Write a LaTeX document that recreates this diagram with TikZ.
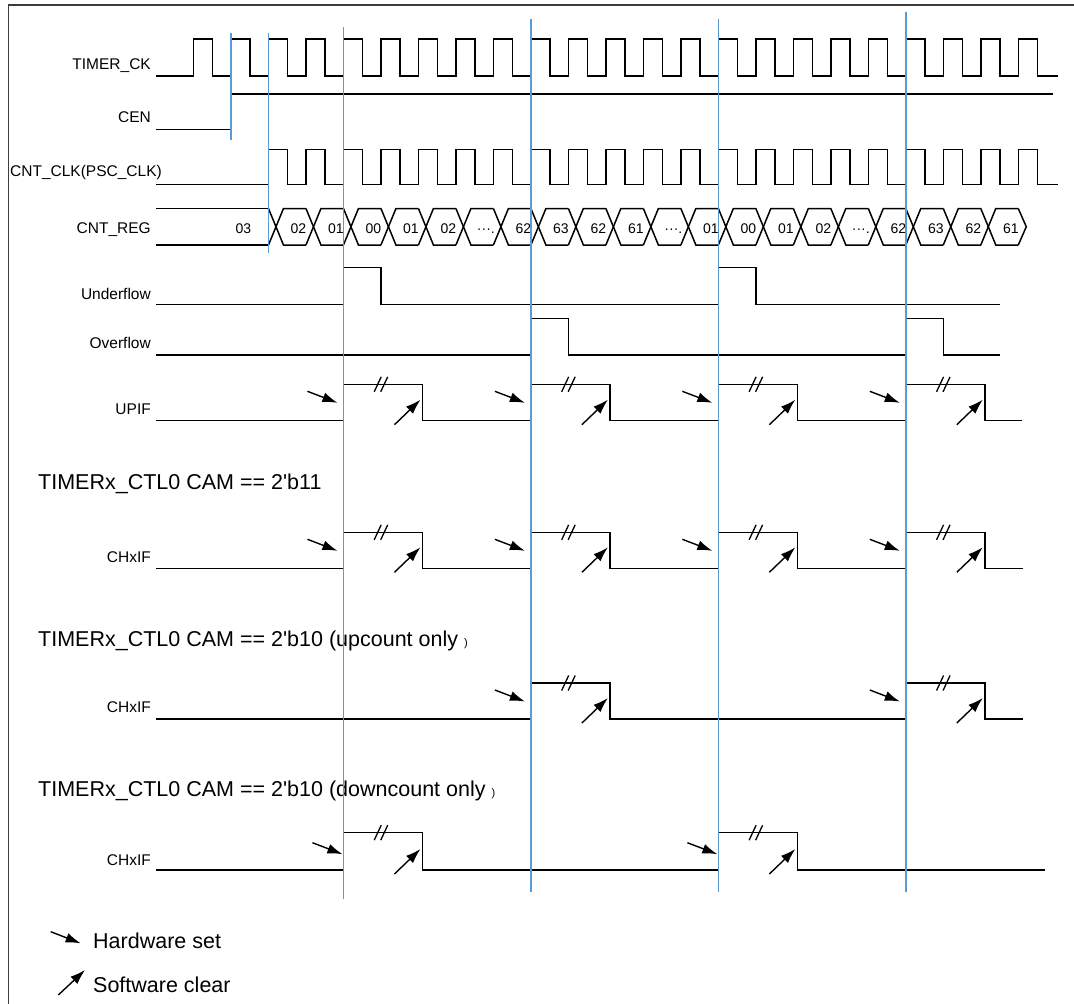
\documentclass[tikz,border=0pt]{standalone}
\usepackage{fontspec}
\newfontfamily\arialfont{Liberation Sans}
\usetikzlibrary{arrows.meta}
\definecolor{guide}{RGB}{91,155,213}
\definecolor{framegray}{RGB}{60,60,60}
\newcommand\flagwave[6]{%
  % #1 low, #2 high, #3 edges, #4 end x, #5 hw tip x-offset, #6 hw y-shift
  \draw[sig] (156,#1) \foreach \k in {#3} { -- ({E(\k)},#1) -- ({E(\k)},#2) -- ({E(\k)+79},#2) -- ({E(\k)+79},#1) } -- (#4,#1);
  \foreach \k in {#3} {
    \draw[brk] ({E(\k)+37.5-3.25-3.5},{#2+7.5}) -- ({E(\k)+37.5-3.25+3.5},{#2-7.5});
    \draw[brk] ({E(\k)+37.5+3.25-3.5},{#2+7.5}) -- ({E(\k)+37.5+3.25+3.5},{#2-7.5});
    \draw[hwarrow] ({E(\k)-#5-30},{#2+7+#6}) -- ({E(\k)-#5},{#2+18.5+#6});
    \draw[hwarrow] ({E(\k)+79-28},{#1+4}) -- ({E(\k)+79-2},{#1-21});
  }%
}
\begin{document}
\begin{tikzpicture}[x=1pt,y=-1pt,
  declare function={E(\k)=193.5+37.49*\k;},
  sig/.style={line width=1.5pt, line join=miter, black},
  guideline/.style={guide, line width=1.4pt},
  lbl/.style={anchor=base east, inner sep=0pt, font=\arialfont\fontsize{15.5}{18}\selectfont},
  cell/.style={anchor=base, inner sep=0pt, font=\arialfont\fontsize{14}{16}\selectfont},
  head/.style={anchor=base west, inner sep=0pt, font=\arialfont\fontsize{21.5}{25}\selectfont},
  hwarrow/.style={-{Latex[length=15pt,width=10pt]}, line width=1.4pt, black},
  brk/.style={line width=1.3pt, black},
]
\useasboundingbox (0,0) rectangle (1074,1004);
\draw[framegray, line width=1.3pt] (8.5,1004) -- (8.5,5) -- (1074,5);

% labels
\node[lbl] (lTimer) at (151,69) {TIMER\_CK};
\node[lbl] (lCen) at (151,122.5) {CEN};
\node[lbl, anchor=base west] (lCnt) at (10,176) {CNT\_CLK(PSC\_CLK)};
\node[lbl] (lReg) at (151,233.5) {CNT\_REG};
\node[lbl] (lUnder) at (151,299) {Underflow};
\node[lbl] (lOver) at (151,348) {Overflow};
\node[lbl] (lUpif) at (151,414) {UPIF};
\node[lbl] (lCh1) at (151,562) {CHxIF};
\node[lbl] (lCh2) at (151,712) {CHxIF};
\node[lbl] (lCh3) at (151,865) {CHxIF};

% TIMER_CK
\draw[sig] (156,76) \foreach \k in {0,...,22}{ -- ({E(\k)},76) -- ({E(\k)},39) -- ({E(\k)+19},39) -- ({E(\k)+19},76) } -- (1058,76);
% CEN
\draw[sig] (156,129.5) -- (231,129.5) -- (231,94) -- (1052.5,94);
% CNT_CLK
\draw[sig] (156,184.5) \foreach \k in {2,...,22}{ -- ({E(\k)},184.5) -- ({E(\k)},149.5) -- ({E(\k)+19},149.5) -- ({E(\k)+19},184.5) } -- (1058,184.5);
% CNT_REG
\draw[sig] (156,208.5) -- ({E(2)},208.5);
\draw[sig] (156,245) -- ({E(2)},245);
\foreach \k in {2,...,21} {
  \draw[sig] ({E(\k)},208.5) -- ({E(\k)+15},245) -- ({E(\k+1)},245);
  \draw[sig] ({E(\k)},245) -- ({E(\k)+15},208.5) -- ({E(\k+1)},208.5);
}
\draw[sig] ({E(22)},208.5) -- ({E(22)+8},226.75) -- ({E(22)},245);
\node[cell] (c03) at (243.3,233.5) {03};
\foreach \v [count=\i from 2] in {02,01,00,01,02,···.,62,63,62,61,···.,01,00,01,02,···.,62,63,62,61}
  \node[cell] (cell\i) at ({E(\i)+30},233.5) {\v};

% Underflow
\draw[sig] (156,304.3) -- ({E(4)},304.3) -- ({E(4)},267.7) -- ({E(5)},267.7) -- ({E(5)},304.3)
  -- ({E(14)},304.3) -- ({E(14)},267.7) -- ({E(15)},267.7) -- ({E(15)},304.3) -- (1000,304.3);
% Overflow
\draw[sig] (156,355) -- ({E(9)},355) -- ({E(9)},318.4) -- ({E(10)},318.4) -- ({E(10)},355)
  -- ({E(19)},355) -- ({E(19)},318.4) -- ({E(20)},318.4) -- ({E(20)},355) -- (1000,355);

% flags
\flagwave{420.7}{384.3}{4,9,14,19}{1022}{6}{0}
\flagwave{568.3}{532.3}{4,9,14,19}{1023}{6}{0}
\flagwave{719}{683}{9,19}{1023}{6}{0}
\flagwave{870}{832.7}{4,14}{1045}{1}{3}

% headers
\node[head] (h1) at (38,489) {TIMERx\_CTL0 CAM == 2'b11};
\node[head] (h2) at (38,646.7) {TIMERx\_CTL0 CAM == 2'b10 (upcount only {\fontsize{11}{12}\selectfont )}};
\node[head] (h3) at (38,796.5) {TIMERx\_CTL0 CAM == 2'b10 (downcount only {\fontsize{11}{12}\selectfont )}};

% legend
\node[head] (lhw) at (93,948.3) {Hardware set};
\node[head] (lsw) at (93,992.3) {Software clear};
\coordinate (hwA) at (50.7,931.7);
\coordinate (hwB) at (80.7,943.3);
\coordinate (swA) at (58.3,995);
\coordinate (swB) at (85,970);
\draw[hwarrow] (hwA) -- (hwB);
\draw[hwarrow] (swA) -- (swB);

% guide lines
\draw[guideline] (231,33.3) -- (231,140);
\draw[guideline] ({E(2)},33.3) -- ({E(2)},253.3);
\draw[guideline] ({E(4)},26.7) -- ({E(4)},899);
\draw[guideline] ({E(9)},18.5) -- ({E(9)},892);
\draw[guideline] ({E(14)},18.5) -- ({E(14)},892);
\draw[guideline] ({E(19)},11.7) -- ({E(19)},892);
\end{tikzpicture}
\end{document}
